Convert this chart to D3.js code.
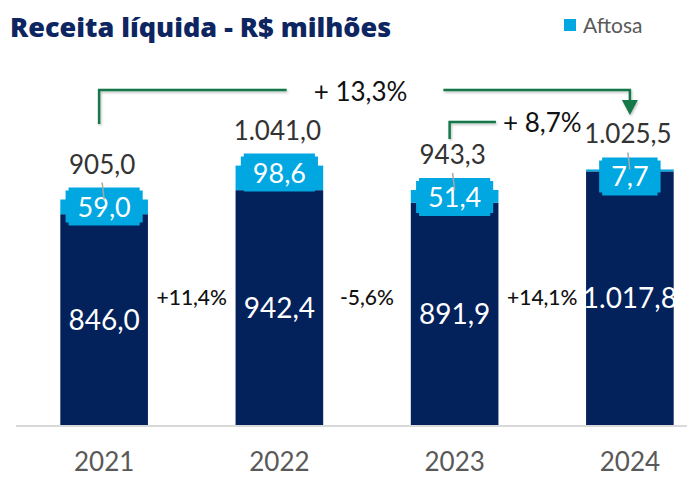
<!DOCTYPE html>
<html>
<head>
<meta charset="utf-8">
<script src="https://cdn.jsdelivr.net/npm/d3@7"></script>
<style>
  html, body { margin: 0; padding: 0; background: #fff; }
  svg { display: block; font-family: Lato, "Open Sans", sans-serif; }
</style>
</head>
<body>
<svg width="687" height="477"></svg>
<script>
// Values (R$ millions)
const years = ["2021", "2022", "2023", "2024"];
const baseValues = [846.0, 942.4, 891.9, 1017.8];   // navy segment
const aftosaValues = [59.0, 98.6, 51.4, 7.7];       // Aftosa segment
const totals = [905.0, 1041.0, 943.3, 1025.5];
const yoyGrowth = ["+11,4%", "-5,6%", "+14,1%"];
const showLeader = [true, false, true, true];
// long-range comparisons: [from index, to index, label]
const comparisons = [[0, 3, "+ 13,3%"], [2, 3, "+ 8,7%"]];

const NAVY = "#03215B", AFTOSA = "#00A7E1", GREEN = "#15784A";

const ptBR = d3.formatLocale({ decimal: ",", thousands: ".", grouping: [3], currency: ["R$", ""] });
const fmt = ptBR.format(",.1f");

const svg = d3.select("svg");
const baseline = 425;

const x = d3.scaleBand()
	.domain(years)
	.range([16.5, 717.5])
	.paddingInner(0.5)
	.paddingOuter(0.25);

const y = d3.scaleLinear()
	.domain([0, 1200])
	.range([baseline, 126]);

const data = years.map((yr, i) => ({
	year: yr, base: baseValues[i], aftosa: aftosaValues[i], total: totals[i], leader: showLeader[i]
}));

// title + legend
svg.append("text")
	.attr("x", 10).attr("y", 37)
	.attr("font-family", "'Open Sans', sans-serif")
	.attr("font-size", 27).attr("font-weight", 800)
	.attr("fill", "#0D2560")
	.text("Receita líquida - R$ milhões");

svg.append("rect").attr("x", 564).attr("y", 19).attr("width", 12).attr("height", 12).attr("fill", AFTOSA);
svg.append("text")
	.attr("x", 583).attr("y", 33)
	.attr("font-size", 21).attr("fill", "#595959")
	.text("Aftosa");

// axis line + year labels
svg.append("line")
	.attr("x1", 16).attr("x2", 687)
	.attr("y1", baseline + 1).attr("y2", baseline + 1)
	.attr("stroke", "#d9d9d9").attr("stroke-width", 2);

const xAxis = d3.axisBottom(x).tickSize(0).tickPadding(0);
const xg = svg.append("g")
	.attr("transform", `translate(0, ${baseline})`)
	.call(xAxis);
xg.select(".domain").remove();
xg.selectAll("text")
	.attr("y", 46).attr("dy", null)
	.attr("font-size", 26).attr("font-family", "Lato, sans-serif")
	.attr("fill", "#595959");

// bars
const g = svg.selectAll("g.bar").data(data).enter().append("g").attr("class", "bar");

g.append("rect")
	.attr("x", d => x(d.year))
	.attr("width", x.bandwidth())
	.attr("y", d => y(d.base))
	.attr("height", d => baseline - y(d.base))
	.attr("fill", NAVY);

g.append("rect")
	.attr("x", d => x(d.year))
	.attr("width", x.bandwidth())
	.attr("y", d => y(d.base + d.aftosa))
	.attr("height", d => y(d.base) - y(d.base + d.aftosa))
	.attr("fill", AFTOSA);

g.append("text")
	.attr("x", d => x(d.year) + x.bandwidth() / 2)
	.attr("y", d => (y(d.base) + baseline) / 2 + 10)
	.attr("text-anchor", "middle")
	.attr("font-size", 28).attr("fill", "#fff")
	.text(d => fmt(d.base));

// Aftosa label boxes (notched corners)
function notchedBox(x0, y0, w, h, n) {
	return `M${x0 + n},${y0}H${x0 + w - n}V${y0 + n}H${x0 + w}V${y0 + h - n}H${x0 + w - n}V${y0 + h}` +
		`H${x0 + n}V${y0 + h - n}H${x0}V${y0 + n}H${x0 + n}Z`;
}

g.each(function(d) {
	const sel = d3.select(this);
	const cx = x(d.year) + x.bandwidth() / 2;
	const segTop = y(d.base + d.aftosa);
	const boxTop = segTop - 12, boxH = 38;
	const box = sel.append("path").attr("fill", AFTOSA);
	const label = sel.append("text")
		.attr("x", cx)
		.attr("y", boxTop + boxH / 2 + 10)
		.attr("text-anchor", "middle")
		.attr("font-size", 27).attr("fill", "#fff")
		.text(fmt(d.aftosa));
	const w = label.node().getComputedTextLength() + 24;
	box.attr("d", notchedBox(cx - w / 2, boxTop, w, boxH, 3));

	// total above
	sel.append("text")
		.attr("x", cx - 2)
		.attr("y", boxTop - 14)
		.attr("text-anchor", "middle")
		.attr("font-size", 26).attr("fill", "#333")
		.text(fmt(d.total));

	if (d.leader) {
		sel.append("line")
			.attr("x1", cx - 2).attr("y1", boxTop - 5)
			.attr("x2", cx).attr("y2", boxTop + 12)
			.attr("stroke", "#a6a6a6").attr("stroke-width", 1.5);
	}
});

// year-over-year growth between bars
svg.selectAll("text.yoy").data(yoyGrowth).enter().append("text")
	.attr("class", "yoy")
	.attr("x", (d, i) => x(years[i]) + x.bandwidth() / 2 + x.step() / 2)
	.attr("y", 305)
	.attr("text-anchor", "middle")
	.attr("font-size", 21).attr("font-weight", 500).attr("fill", "#111")
	.text(d => d);

// comparison brackets
const defs = svg.append("defs");
defs.append("filter").attr("id", "shadow")
	.append("feDropShadow")
	.attr("dx", 1).attr("dy", 1.5).attr("stdDeviation", 1)
	.attr("flood-color", "#000").attr("flood-opacity", 0.25);

const center = yr => x(yr) + x.bandwidth() / 2;

// big bracket 2021 -> 2024
(function() {
	const [a, b, txt] = comparisons[0];
	const x1 = center(years[a]) - 5, x2 = center(years[b]);
	const top = 90;
	const mid = (x1 + x2) / 2 - 4;
	const bg = svg.append("g").attr("filter", "url(#shadow)");
	const t = svg.append("text")
		.attr("x", mid).attr("y", 101)
		.attr("text-anchor", "middle")
		.attr("font-size", 26).attr("fill", "#111")
		.text(txt);
	const tw = t.node().getComputedTextLength();
	bg.append("path")
		.attr("d", `M${x1},124V${top}H${mid - tw / 2 - 27}`)
		.attr("fill", "none").attr("stroke", GREEN).attr("stroke-width", 2.5);
	bg.append("path")
		.attr("d", `M${mid + tw / 2 + 36},${top}H${x2}V102`)
		.attr("fill", "none").attr("stroke", GREEN).attr("stroke-width", 2.5);
	bg.append("path")
		.attr("d", `M${x2 - 8},100L${x2 + 8},100L${x2},115Z`)
		.attr("fill", GREEN);
})();

// small bracket 2023 -> 2024
(function() {
	const [a, b, txt] = comparisons[1];
	const x1 = center(years[a]) - 5;
	const mid = (center(years[a]) + center(years[b])) / 2;
	const bracket = svg.append("path");
	const t = svg.append("text")
		.attr("x", mid).attr("y", 132)
		.attr("text-anchor", "middle")
		.attr("font-size", 26).attr("fill", "#111")
		.text(txt);
	const tw = t.node().getComputedTextLength();
	bracket
		.attr("filter", "url(#shadow)")
		.attr("d", `M${x1},139V122H${mid - tw / 2 - 7}`)
		.attr("fill", "none").attr("stroke", GREEN).attr("stroke-width", 2.5);
})();
</script>
</body>
</html>
